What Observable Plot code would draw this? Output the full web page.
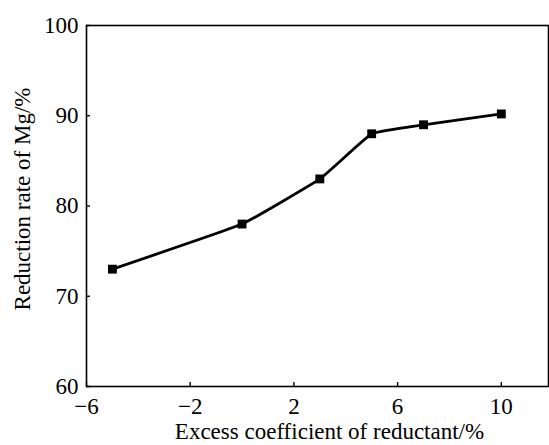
<!DOCTYPE html>
<html>
<head>
<meta charset="utf-8">
<script src="https://cdn.jsdelivr.net/npm/d3@7"></script>
<script src="https://cdn.jsdelivr.net/npm/@observablehq/plot@0.6"></script>
<style>
  html, body { margin: 0; padding: 0; background: #fff; }
  #chart svg { display: block; }
</style>
</head>
<body>
<div id="chart"></div>
<script>
const excess = [-5, 0, 3, 5, 7, 10];
const reduction = [73, 78, 83, 88, 89, 90.2];
const xTicks = [-6, -2, 2, 6, 10];
const yTicks = [60, 70, 80, 90, 100];
const xTitle = "Excess coefficient of reductant/%";
const yTitle = "Reduction rate of Mg/%";

const data = excess.map((x, i) => ({x, y: reduction[i]}));
const font = "'Liberation Serif', 'Times New Roman', serif";

const chart = Plot.plot({
  width: 549,
  height: 445,
  marginLeft: 86,
  marginRight: 1,
  marginTop: 25,
  marginBottom: 59,
  style: {fontFamily: font, fontSize: "23px", color: "#000", background: "#fff"},
  x: {domain: [-6, 11.82]},
  y: {domain: [60, 100]},
  marks: [
    Plot.frame({stroke: "#000", strokeWidth: 1.6}),
    Plot.axisX(xTicks, {tickSize: -4, tickPadding: 15, label: null, fontSize: 23, strokeWidth: 1.4}),
    Plot.axisY(yTicks, {tickSize: -4, tickPadding: 12, label: null, fontSize: 23, strokeWidth: 1.4}),
    Plot.line(data, {x: "x", y: "y", curve: "cardinal", tension: 0.7, stroke: "#000", strokeWidth: 2.8}),
    Plot.dot(data, {x: "x", y: "y", symbol: "square", r: 5, fill: "#000", stroke: "none"}),
    Plot.text([xTitle], {frameAnchor: "bottom", textAnchor: "middle", lineAnchor: "middle", dy: 45, dx: 12, fontSize: 23, fill: "#000"}),
    Plot.text([yTitle], {frameAnchor: "left", textAnchor: "middle", lineAnchor: "middle", rotate: -90, dx: -64, dy: -7, fontSize: 23, fill: "#000"})
  ]
});
document.getElementById("chart").appendChild(chart);
</script>
</body>
</html>
